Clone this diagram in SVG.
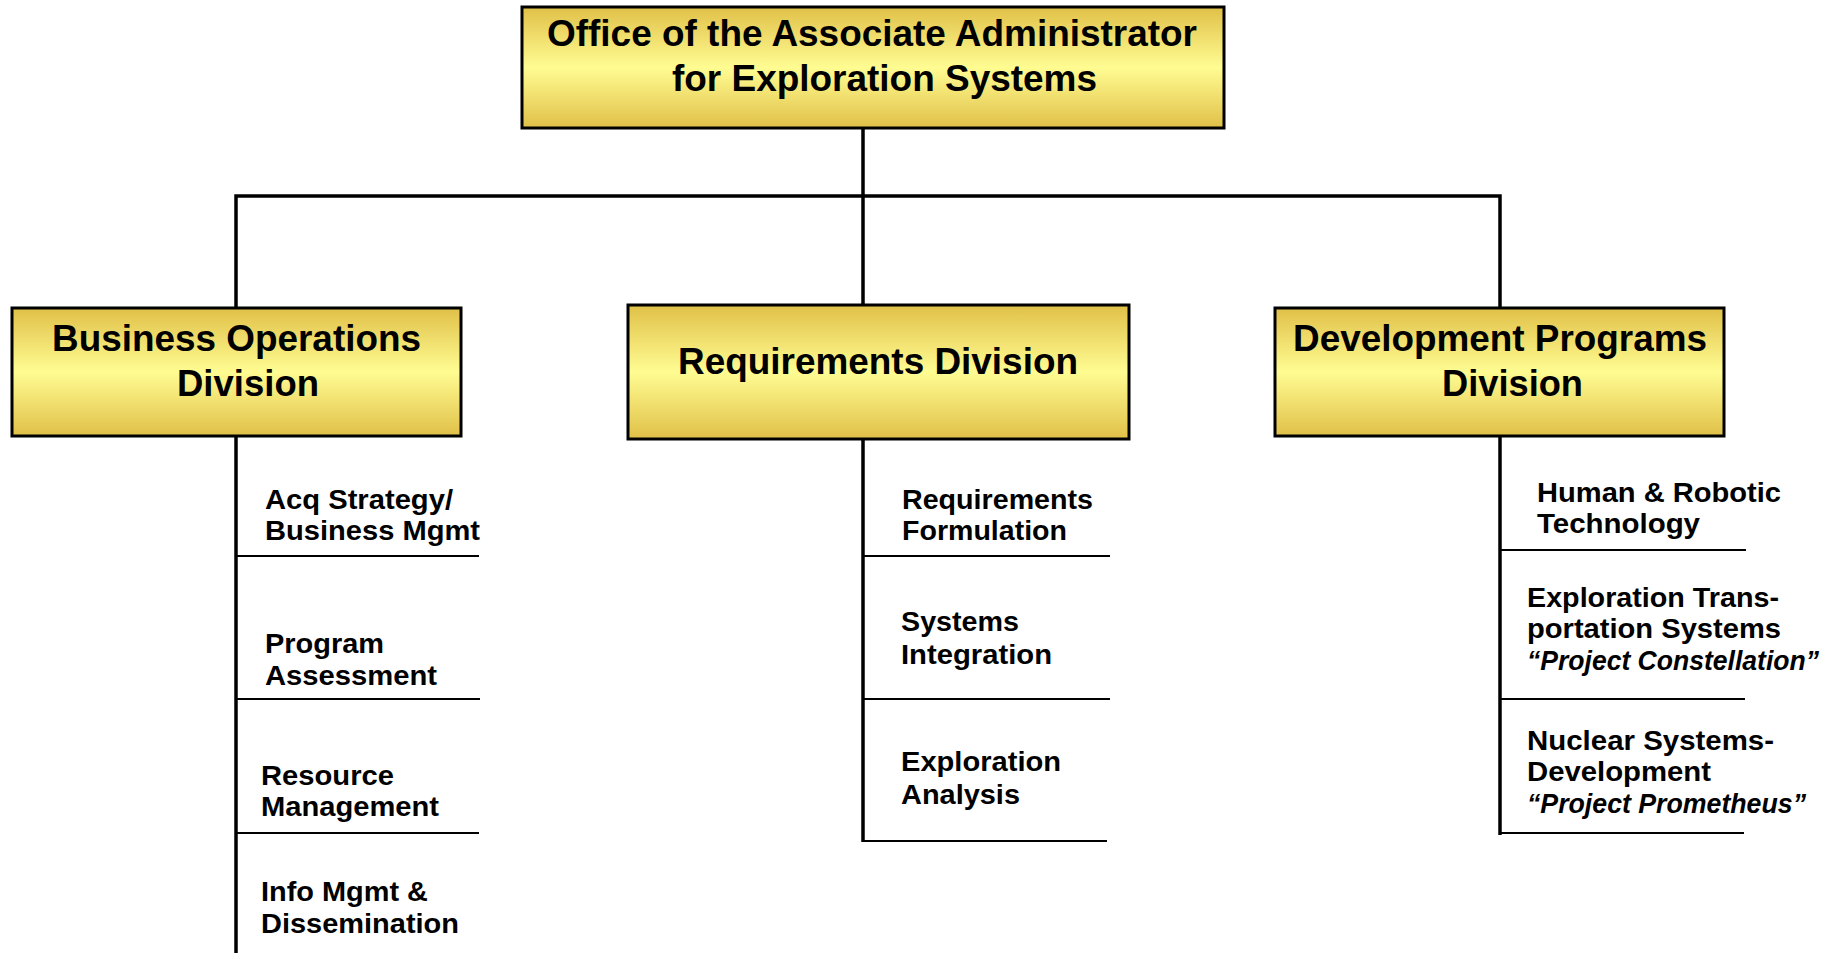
<svg xmlns="http://www.w3.org/2000/svg" width="1832" height="953" viewBox="0 0 1832 953">
<defs>
<linearGradient id="gold" x1="0" y1="0" x2="0" y2="1">
<stop offset="0" stop-color="#E0C048"/>
<stop offset="0.5" stop-color="#FFFC92"/>
<stop offset="1" stop-color="#E0C048"/>
</linearGradient>
<style>
.box{fill:url(#gold);stroke:#000;stroke-width:3}
.hd{font-family:"Liberation Sans",Arial,sans-serif;font-weight:bold;font-size:36px;fill:#000}
.it{font-family:"Liberation Sans",Arial,sans-serif;font-weight:bold;font-size:28px;fill:#000}
.itl{font-style:italic}
.ln{stroke:#000;stroke-width:3.5;fill:none}
.ul{stroke:#000;stroke-width:2.2;fill:none}
</style>
</defs>
<rect width="1832" height="953" fill="#fff"/>
<g id="connectors">
<line class="ln" x1="863" y1="128" x2="863" y2="305"/>
<polyline class="ln" points="236,308 236,196 1500,196 1500,308"/>
<line class="ln" x1="236" y1="437" x2="236" y2="953"/>
<line class="ln" x1="863" y1="440" x2="863" y2="842"/>
<line class="ln" x1="1500" y1="437" x2="1500" y2="835"/>
<line class="ul" x1="236" y1="556" x2="479" y2="556"/>
<line class="ul" x1="236" y1="699" x2="480" y2="699"/>
<line class="ul" x1="236" y1="833" x2="479" y2="833"/>
<line class="ul" x1="863" y1="556" x2="1110" y2="556"/>
<line class="ul" x1="863" y1="699" x2="1110" y2="699"/>
<line class="ul" x1="863" y1="841" x2="1107" y2="841"/>
<line class="ul" x1="1500" y1="550" x2="1746" y2="550"/>
<line class="ul" x1="1500" y1="699" x2="1745" y2="699"/>
<line class="ul" x1="1500" y1="833" x2="1744" y2="833"/>
</g>
<g id="top">
<rect class="box" x="522" y="7" width="702" height="121"/>
<text class="hd" x="547" y="46" textLength="650" lengthAdjust="spacingAndGlyphs">Office of the Associate Administrator</text>
<text class="hd" x="672" y="91" textLength="425" lengthAdjust="spacingAndGlyphs">for Exploration Systems</text>
</g>
<g id="business">
<rect class="box" x="12" y="308" width="449" height="128"/>
<text class="hd" x="52" y="351" textLength="369" lengthAdjust="spacingAndGlyphs">Business Operations</text>
<text class="hd" x="177" y="396" textLength="142" lengthAdjust="spacingAndGlyphs">Division</text>
</g>
<g id="requirements">
<rect class="box" x="628" y="305" width="501" height="134"/>
<text class="hd" x="678" y="374" textLength="400" lengthAdjust="spacingAndGlyphs">Requirements Division</text>
</g>
<g id="development">
<rect class="box" x="1275" y="308" width="449" height="128"/>
<text class="hd" x="1293" y="351" textLength="414" lengthAdjust="spacingAndGlyphs">Development Programs</text>
<text class="hd" x="1442" y="396" textLength="141" lengthAdjust="spacingAndGlyphs">Division</text>
</g>
<g id="acq">
<text class="it" x="265" y="509" textLength="188" lengthAdjust="spacingAndGlyphs">Acq Strategy/</text>
<text class="it" x="265" y="540" textLength="215" lengthAdjust="spacingAndGlyphs">Business Mgmt</text>
</g>
<g id="program">
<text class="it" x="265" y="653" textLength="119" lengthAdjust="spacingAndGlyphs">Program</text>
<text class="it" x="265" y="685" textLength="172" lengthAdjust="spacingAndGlyphs">Assessment</text>
</g>
<g id="resource">
<text class="it" x="261" y="785" textLength="133" lengthAdjust="spacingAndGlyphs">Resource</text>
<text class="it" x="261" y="816" textLength="178" lengthAdjust="spacingAndGlyphs">Management</text>
</g>
<g id="info">
<text class="it" x="261" y="901" textLength="167" lengthAdjust="spacingAndGlyphs">Info Mgmt &amp;</text>
<text class="it" x="261" y="933" textLength="198" lengthAdjust="spacingAndGlyphs">Dissemination</text>
</g>
<g id="reqform">
<text class="it" x="902" y="509" textLength="191" lengthAdjust="spacingAndGlyphs">Requirements</text>
<text class="it" x="902" y="540" textLength="165" lengthAdjust="spacingAndGlyphs">Formulation</text>
</g>
<g id="sysint">
<text class="it" x="901" y="631" textLength="118" lengthAdjust="spacingAndGlyphs">Systems</text>
<text class="it" x="901" y="664" textLength="151" lengthAdjust="spacingAndGlyphs">Integration</text>
</g>
<g id="exploran">
<text class="it" x="901" y="771" textLength="160" lengthAdjust="spacingAndGlyphs">Exploration</text>
<text class="it" x="901" y="804" textLength="119" lengthAdjust="spacingAndGlyphs">Analysis</text>
</g>
<g id="hrt">
<text class="it" x="1537" y="502" textLength="244" lengthAdjust="spacingAndGlyphs">Human &amp; Robotic</text>
<text class="it" x="1537" y="533" textLength="163" lengthAdjust="spacingAndGlyphs">Technology</text>
</g>
<g id="ets">
<text class="it" x="1527" y="607" textLength="252" lengthAdjust="spacingAndGlyphs">Exploration Trans-</text>
<text class="it" x="1527" y="638" textLength="254" lengthAdjust="spacingAndGlyphs">portation Systems</text>
<text class="it itl" x="1527" y="670" textLength="292" lengthAdjust="spacingAndGlyphs">“Project Constellation”</text>
</g>
<g id="nsd">
<text class="it" x="1527" y="750" textLength="247" lengthAdjust="spacingAndGlyphs">Nuclear Systems-</text>
<text class="it" x="1527" y="781" textLength="184" lengthAdjust="spacingAndGlyphs">Development</text>
<text class="it itl" x="1527" y="813" textLength="279" lengthAdjust="spacingAndGlyphs">“Project Prometheus”</text>
</g>
</svg>
